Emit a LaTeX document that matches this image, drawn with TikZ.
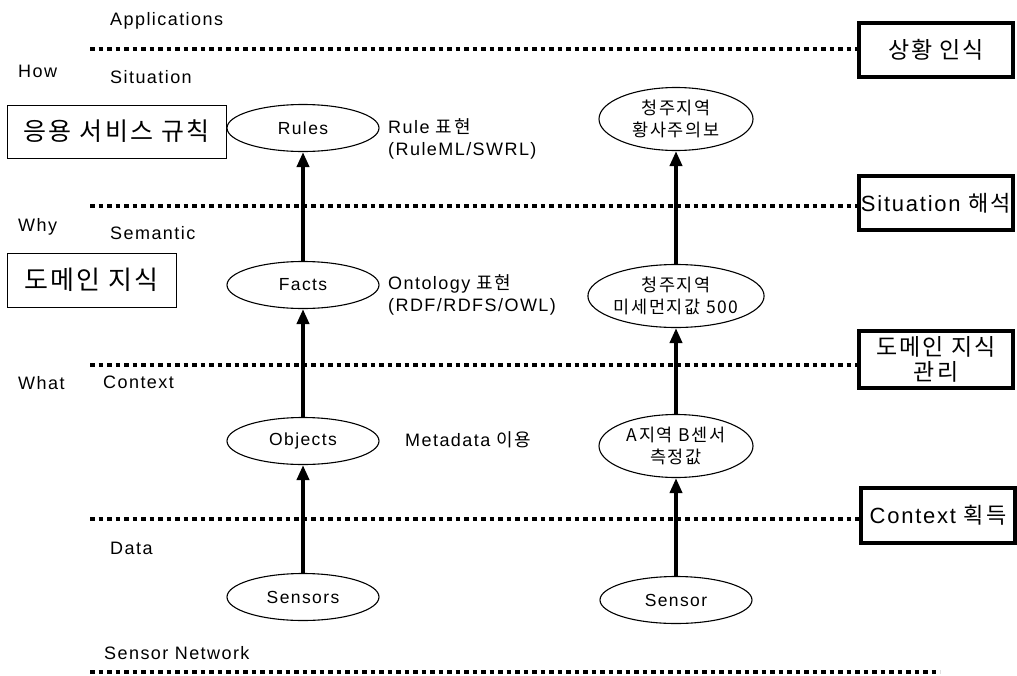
\documentclass[tikz,border=0pt]{standalone}
\usepackage{fontspec}
\setmainfont{Liberation Sans}[LetterSpace=8]
\newfontfamily\kr{Noto Sans CJK KR}[LetterSpace=9]
\usetikzlibrary{shapes.geometric,arrows.meta}
\tikzset{
  layer/.style={line width=3.5pt, dash pattern=on 4.5pt off 4pt},
  oval/.style={draw, ellipse, line width=1.1pt, inner sep=0pt, minimum width=152pt, minimum height=47pt, font=\fontsize{17.5}{20}\selectfont, align=center},
  koval/.style={oval, minimum width=154pt, minimum height=63pt, font=\kr\fontsize{17.5}{22}\selectfont},
  up/.style={line width=4pt, -{Triangle[length=15pt,width=12pt]}},
  lbl/.style={anchor=west, font=\fontsize{18}{22}\selectfont, inner sep=0pt, align=left},
  thinbox/.style={draw, line width=0.9pt, inner sep=0pt, font=\kr\fontsize{25}{28}\selectfont},
  thickbox/.style={draw, line width=4pt, inner sep=0pt, minimum width=154pt, font=\fontsize{22}{25}\selectfont, align=center}
}
\begin{document}
\begin{tikzpicture}[x=1pt,y=-1pt]
\useasboundingbox (0,0) rectangle (1017,675);
% right boxes
\node[thickbox, minimum height=54pt] (b1) at (936,49.5) {\kr\fontsize{23}{26}\selectfont 상황 인식};
\node[thickbox, minimum height=54pt] (b2) at (936,203) {Situation {\kr 해석}};
\node[thickbox, minimum height=57pt] (b3) at (936,359) {\kr\fontsize{23}{24}\selectfont 도메인 지식\\\kr\fontsize{23}{24}\selectfont 관리};
\node[thickbox, minimum height=55pt] (b4) at (938,515) {Context {\kr 획득}};
% dotted layer lines
\coordinate (s1) at (90,49);  \coordinate (s2) at (90,206);
\coordinate (s3) at (90,365); \coordinate (s4) at (90,519);
\coordinate (s5) at (90,672); \coordinate (e5) at (940,672);
\draw[layer] (s1) -- (s1 -| b1.west);
\draw[layer] (s2) -- (s2 -| b2.west);
\draw[layer] (s3) -- (s3 -| b3.west);
\draw[layer] (s4) -- (s4 -| b4.west);
\draw[layer] (s5) -- (e5);
% side labels
\node[lbl] (tApp) at (110,21) {Applications};
\node[lbl] (tHow) at (18,71) {How};
\node[lbl] (tSit) at (110,77) {Situation};
\node[lbl] (tWhy) at (18,227) {Why};
\node[lbl] (tSem) at (110,233) {Semantic};
\node[lbl] (tWhat) at (18,383) {What};
\node[lbl] (tCtx) at (103,382) {Context};
\node[lbl] (tData) at (110,548) {Data};
\node[lbl] (tSN) at (104,653) {Sensor Network};
% left boxes
\node[thinbox, minimum width=219pt, minimum height=53pt] (kb1) at (116.5,131.5) {응용 서비스 규칙};
\node[thinbox, minimum width=169pt, minimum height=54pt, font=\kr\fontsize{26}{28}\selectfont] (kb2) at (91.5,280) {도메인 지식};
% left column
\node[oval] (rules) at (303,128) {Rules};
\node[oval] (facts) at (303,285) {Facts};
\node[oval] (objects) at (303,441) {Objects};
\node[oval] (sensors) at (303,597) {Sensors};
\draw[up] (sensors) -- (objects);
\draw[up] (objects) -- (facts);
\draw[up] (facts) -- (rules);
% middle labels
\node[lbl] (lRule) at (388,139) {Rule {\kr 표현}\\(RuleML/SWRL)};
\node[lbl] (lOnt) at (388,295) {Ontology {\kr 표현}\\(RDF/RDFS/OWL)};
\node[lbl] (lMeta) at (405,440) {Metadata {\kr 이용}};
% right column
\node[koval] (r4) at (676,119) {청주지역\\황사주의보};
\node[koval, minimum width=160pt] (r3) at (676,296) {청주지역\\미세먼지값 500};
\node[koval] (r2) at (676,446) {A지역 B센서\\측정값};
\node[oval] (r1) at (676,600) {Sensor};
\draw[up] (r1) -- (r2);
\draw[up] (r2) -- (r3);
\draw[up] (r3) -- (r4);
\end{tikzpicture}
\end{document}
